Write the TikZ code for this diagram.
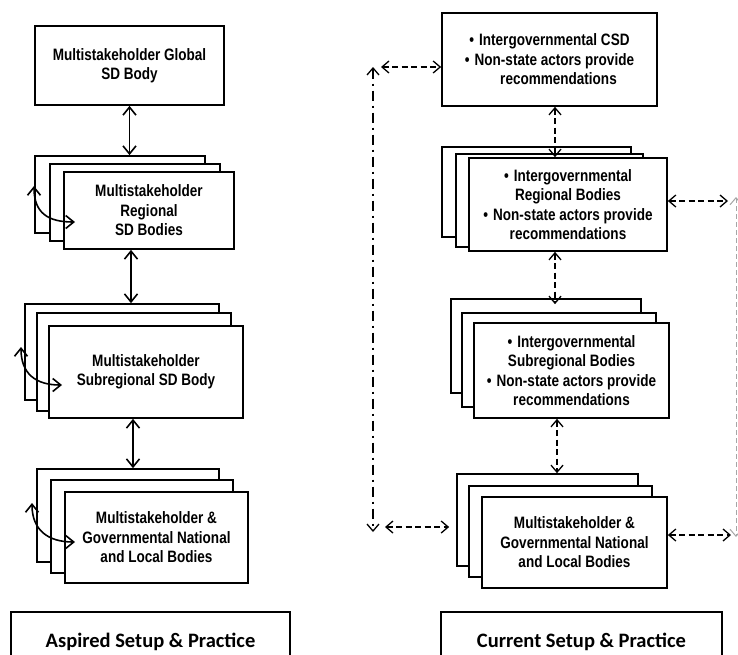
\documentclass[tikz,border=0pt]{standalone}
\usepackage{fontspec}
\setmainfont{Liberation Sans}
\newfontfamily\narrow{Liberation Sans}[FakeStretch=0.82]
\newfontfamily\calib{Carlito}
\usetikzlibrary{arrows.meta,calc}
\begin{document}
\begin{tikzpicture}[x=1pt,y=-1pt,
  lay/.style={draw, line width=1.7pt, fill=white, inner sep=0pt},
  front/.style={lay, align=center, font=\narrow\bfseries\fontsize{16.5}{19.5}\selectfont},
  solidarr/.style={line width=1.6pt, {Straight Barb[length=8pt,width=13pt]}-{Straight Barb[length=8pt,width=13pt]}},
  dasharr/.style={line width=1.3pt, dash pattern=on 6pt off 3.5pt, {Straight Barb[length=7pt,width=12pt]}-{Straight Barb[length=7pt,width=12pt]}},
  dashdotarr/.style={line width=1.3pt, dash pattern=on 10pt off 5pt on 2pt off 5pt, {Straight Barb[length=7pt,width=12pt]}-{Straight Barb[length=7pt,width=12pt]}},
  grayarr/.style={line width=1pt, black!35, dash pattern=on 5pt off 3pt, {Straight Barb[length=7pt,width=12pt]}-{Straight Barb[length=7pt,width=12pt]}},
  labelbox/.style={draw, line width=1.5pt, minimum height=60, anchor=north, font=\calib\bfseries\fontsize{20.5}{24}\selectfont}
]
\fill[white] (0,0) rectangle (738,654);
\useasboundingbox (0,0) rectangle (738,654);
\clip (0,0) rectangle (738,654);

% ---------- Left column ----------
\node[front, minimum width=189, minimum height=79] (g) at (129.5,65.5) {Multistakeholder Global\\SD Body};

\node[lay, minimum width=170, minimum height=77] (r1) at (120,194.5) {};
\node[lay, minimum width=170, minimum height=77] (r2) at (135,202.5) {};
\node[front, minimum width=170, minimum height=77] (r3) at (149,210.5) {Multistakeholder\\Regional\\SD Bodies};

\node[lay, minimum width=194, minimum height=96] (s1) at (122,352) {};
\node[lay, minimum width=194, minimum height=98] (s2) at (134,362) {};
\node[front, minimum width=194, minimum height=92] (s3) at (146,372) {Multistakeholder\\Subregional SD Body};

\node[lay, minimum width=182, minimum height=93] (n1) at (128,515.5) {};
\node[lay, minimum width=182, minimum height=93] (n2) at (142,526.5) {};
\node[front, minimum width=183, minimum height=91] (n3) at (156.5,537.5) {Multistakeholder \&\\Governmental National\\and Local Bodies};

\draw[solidarr] (g.south) -- (g.south |- r1.north);
\draw[solidarr] ($(g.south |- r3.south)+(1.5,0)$) -- ($(g.south |- s1.north)+(1.5,0)$);
\draw[solidarr] ($(g.south |- s3.south)+(3.5,0)$) -- ($(g.south |- n1.north)+(3.5,0)$);

\coordinate (ra) at (34,186);  \coordinate (rb) at (75,222);
\coordinate (sa) at (21,347);  \coordinate (sb) at (62,385);
\coordinate (na) at (32,503);  \coordinate (nb) at (75,542);
\draw[solidarr] (ra) .. controls (34,213) and (48,222) .. (rb);
\draw[solidarr] (sa) .. controls (21,374) and (36,385) .. (sb);
\draw[solidarr] (na) .. controls (32,530) and (48,542) .. (nb);

\node[labelbox, minimum width=279] (asp) at (150.5,611) {Aspired Setup \& Practice};

% ---------- Right column ----------
\node[front, minimum width=215, minimum height=93] (c) at (549.5,59.5) {•\hspace{5pt}Intergovernmental CSD\\•\hspace{5pt}Non-state actors provide\\\hspace*{18pt}recommendations};

\node[lay, minimum width=189, minimum height=90] (R1) at (536.5,192) {};
\node[lay, minimum width=187, minimum height=93] (R2) at (549.5,200.5) {};
\node[front, minimum width=198, minimum height=93] (R3) at (568,204.5) {•\hspace{5pt}Intergovernmental\\Regional Bodies\\•\hspace{5pt}Non-state actors provide\\recommendations};

\node[lay, minimum width=190, minimum height=94] (S1) at (546,346) {};
\node[lay, minimum width=194, minimum height=94] (S2) at (559,360) {};
\node[front, minimum width=195, minimum height=95] (S3) at (571.5,370.5) {•\hspace{5pt}Intergovernmental\\Subregional Bodies\\•\hspace{5pt}Non-state actors provide\\recommendations};

\node[lay, minimum width=181, minimum height=92] (N1) at (547.5,520) {};
\node[lay, minimum width=183, minimum height=91] (N2) at (560.5,531.5) {};
\node[front, minimum width=185, minimum height=91] (N3) at (574.5,542.5) {Multistakeholder \&\\Governmental National\\and Local Bodies};

\coordinate (ax) at ($(c.south)+(5.5,0)$);
\draw[dasharr] (ax) -- (ax |- R3.north);
\draw[dasharr] (ax |- R3.south) -- ($(ax |- S1.north)+(0,6)$);
\draw[dasharr] ($(ax |- S3.south)+(2,0)$) -- ($(ax |- N1.north)+(2,0)$);

\coordinate (L1) at (381,67);
\coordinate (L2) at (385,527);
\coordinate (Q1) at (728,201);
\coordinate (Q2) at (731,535);
\draw[dasharr] (L1) -- (L1 -| c.west);
\draw[dasharr] (L2) -- ($(L2 -| N1.west)+(-7,0)$);
\draw[dasharr] (Q1 -| R3.east) -- (Q1);
\draw[dasharr] (Q2 -| N3.east) -- (Q2);

\coordinate (V1) at (373,67);
\coordinate (V2) at (373,532);
\draw[dashdotarr] (V1) -- (V2);
\coordinate (W1) at (736,197);
\coordinate (W2) at (736,537);
\draw[grayarr] (W1) -- (W2);

\node[labelbox, minimum width=281] (cur) at (581.5,611) {Current Setup \& Practice};
\end{tikzpicture}
\end{document}
